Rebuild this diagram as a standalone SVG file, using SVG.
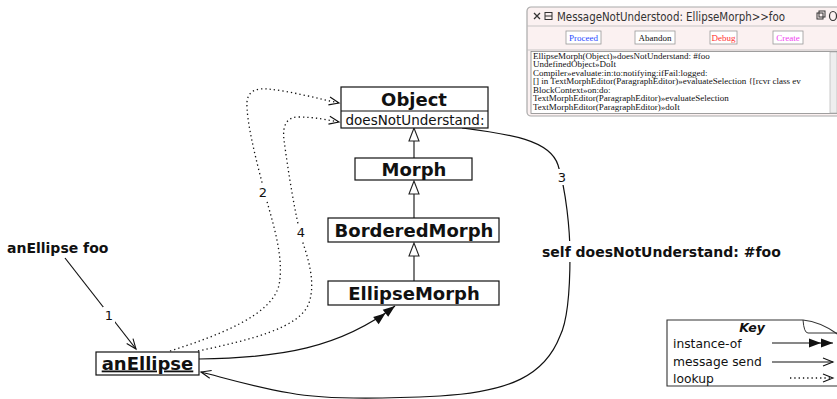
<svg xmlns="http://www.w3.org/2000/svg" width="837" height="399" viewBox="0 0 837 399">
<style>
.box{fill:#fff;stroke:#111;stroke-width:1.2}
.cls{font-family:"DejaVu Sans",sans-serif;font-weight:bold;font-size:18px;text-anchor:middle;fill:#111}
.lbl{font-family:"DejaVu Sans",sans-serif;font-size:13px;text-anchor:middle;fill:#111}
.bold14{font-family:"DejaVu Sans",sans-serif;font-weight:bold;font-size:14px;fill:#111}
.send{fill:none;stroke:#111;stroke-width:1.2}
.look{fill:none;stroke:#111;stroke-width:1.3;stroke-dasharray:1.3 3}
.spine{stroke:#444;stroke-width:1.4}
.tri{fill:#fff;stroke:#222;stroke-width:1.1}
.trace{font-family:"Liberation Serif",serif;font-size:9px;fill:#111}
.btn{fill:#fff;stroke:#999;stroke-width:0.8}
.btxt{font-family:"Liberation Serif",serif;font-size:9px;text-anchor:middle}
.key{font-family:"DejaVu Sans",sans-serif;font-size:12.3px;fill:#111}
</style>
<defs>
<marker id="open" markerUnits="userSpaceOnUse" markerWidth="14" markerHeight="12" refX="10" refY="4" orient="auto" overflow="visible">
<path d="M0,0 L10,4 L0,8" fill="none" stroke="#111" stroke-width="1.1"/>
</marker>
<marker id="dbl" markerUnits="userSpaceOnUse" markerWidth="26" markerHeight="12" refX="24" refY="4.5" orient="auto" overflow="visible">
<path d="M0,0 L12,4.5 L0,9 z M12,0 L24,4.5 L12,9 z" fill="#111"/>
</marker>
<clipPath id="txtclip"><rect x="532" y="52" width="297" height="61"/></clipPath>
</defs>

<g id="screenshot">
<rect x="527" y="7" width="320" height="109" rx="4" fill="#fbf1f1" stroke="#aaa" stroke-width="1.2"/>
<line x1="527" y1="26" x2="837" y2="26" stroke="#bbb" stroke-width="0.8"/>
<line x1="527" y1="50" x2="837" y2="50" stroke="#bbb" stroke-width="0.8"/>
<path d="M534,13 L540,19 M540,13 L534,19" stroke="#333" stroke-width="1.3"/>
<rect x="545" y="12.5" width="7" height="7" fill="none" stroke="#333" stroke-width="1"/>
<line x1="545" y1="16" x2="552" y2="16" stroke="#333" stroke-width="1"/>
<text x="557" y="21" font-family="DejaVu Sans,sans-serif" font-size="12.5px" fill="#333" textLength="228" lengthAdjust="spacingAndGlyphs">MessageNotUnderstood: EllipseMorph&gt;&gt;foo</text>
<rect x="817" y="13" width="6" height="6" fill="none" stroke="#333" stroke-width="1"/>
<rect x="819" y="11" width="6" height="6" fill="none" stroke="#333" stroke-width="1"/>
<ellipse cx="833" cy="16" rx="3.5" ry="4.5" fill="none" stroke="#333" stroke-width="1.2"/>
<rect class="btn" x="566" y="31" width="35" height="13"/>
<text class="btxt" x="583.5" y="40.5" fill="#2a4bff">Proceed</text>
<rect class="btn" x="635" y="31" width="40" height="13"/>
<text class="btxt" x="655" y="40.5" fill="#111">Abandon</text>
<rect class="btn" x="710" y="31" width="27" height="13"/>
<text class="btxt" x="723.5" y="40.5" fill="#ff3030">Debug</text>
<rect class="btn" x="773" y="31" width="30" height="13"/>
<text class="btxt" x="788" y="40.5" fill="#f040f0">Create</text>
<rect x="531" y="51.5" width="306" height="62" fill="#fff" stroke="#888" stroke-width="0.8"/>
<rect x="830" y="52" width="7" height="61" fill="#eee" stroke="#aaa" stroke-width="0.6"/>
<g clip-path="url(#txtclip)">
<text class="trace" x="533" y="58.5">EllipseMorph(Object)»doesNotUnderstand: #foo</text>
<text class="trace" x="533" y="67">UndefinedObject»DoIt</text>
<text class="trace" x="533" y="75.5">Compiler»evaluate:in:to:notifying:ifFail:logged:</text>
<text class="trace" x="533" y="84">[] in TextMorphEditor(ParagraphEditor)»evaluateSelection {[rcvr class ev</text>
<text class="trace" x="533" y="92.5">BlockContext»on:do:</text>
<text class="trace" x="533" y="101">TextMorphEditor(ParagraphEditor)»evaluateSelection</text>
<text class="trace" x="533" y="109.5">TextMorphEditor(ParagraphEditor)»doIt</text>
</g>
</g>

<g id="connectors">
<line class="spine" x1="414" y1="141" x2="414" y2="158"/>
<polygon class="tri" points="414,128 409,141 419,141"/>
<line class="spine" x1="414" y1="194" x2="414" y2="218"/>
<polygon class="tri" points="414,181 409,194 419,194"/>
<line class="spine" x1="414" y1="256" x2="414" y2="281"/>
<polygon class="tri" points="414,243 409,256 419,256"/>

<path class="send" d="M65,258 L136,349" marker-end="url(#open)"/>
<path class="send" d="M199,359 C280,358 340,348 395,306" marker-end="url(#dbl)"/>
<path class="send" d="M462,128 C510,134 550,140 558,165 C566,190 570,230 570,255 C570,290 568,320 560,336 C545,375 510,392 440,396 C380,399 320,399 290,393 C250,386 225,378 201,372" marker-end="url(#open)"/>
<path class="look" d="M170,351 C220,335 272,315 279,285 C285,255 270,215 264,190 C256,160 246,120 247,102 C248,90 258,88 268,89 C290,91 320,99 339,103" marker-end="url(#open)"/>
<path class="look" d="M198,351 C250,340 300,328 309,303 C316,282 308,258 302,240 C295,215 288,170 284,140 C282,124 288,117 298,117 C315,117 328,120 339,122" marker-end="url(#open)"/>

<rect x="103" y="307" width="12" height="16" fill="#fff"/>
<text class="lbl" x="109" y="320">1</text>
<rect x="257" y="184" width="12" height="16" fill="#fff"/>
<text class="lbl" x="263" y="197">2</text>
<rect x="556" y="169" width="12" height="16" fill="#fff"/>
<text class="lbl" x="562" y="182">3</text>
<rect x="295" y="224" width="12" height="16" fill="#fff"/>
<text class="lbl" x="301" y="237">4</text>
<rect x="540" y="241" width="240" height="21" fill="#fff"/>
<text class="bold14" x="542" y="257">self doesNotUnderstand: #foo</text>
</g>

<g id="anEllipseFoo">
<text class="bold14" x="7" y="253">anEllipse foo</text>
</g>

<g id="Object">
<rect class="box" x="341" y="87" width="147" height="41"/>
<line x1="341" y1="111" x2="488" y2="111" stroke="#111" stroke-width="1.2"/>
<text class="cls" x="414" y="106">Object</text>
<text x="415" y="124.5" font-family="DejaVu Sans,sans-serif" font-size="13.5px" text-anchor="middle" fill="#111">doesNotUnderstand:</text>
</g>
<g id="Morph">
<rect class="box" x="355" y="158" width="117" height="22"/>
<text class="cls" x="414" y="175.5">Morph</text>
</g>
<g id="BorderedMorph">
<rect class="box" x="328" y="218" width="171" height="24"/>
<text class="cls" x="414" y="236.5">BorderedMorph</text>
</g>
<g id="EllipseMorph">
<rect class="box" x="328" y="281" width="171" height="24"/>
<text class="cls" x="414" y="299.5">EllipseMorph</text>
</g>
<g id="anEllipse">
<rect class="box" x="96" y="352" width="103" height="23"/>
<text class="cls" x="147.5" y="369.5" text-decoration="underline">anEllipse</text>
</g>

<g id="key">
<path d="M667,320 L803,320 Q822,322 840,336 L840,386 L667,386 Z" fill="#fff" stroke="#333" stroke-width="1.1"/>
<path d="M803,320 Q804,333 808,333 L840,333" fill="none" stroke="#333" stroke-width="1"/>
<text x="752" y="332" font-family="DejaVu Sans,sans-serif" font-size="12.5px" font-weight="bold" font-style="italic" text-anchor="middle" fill="#111">Key</text>
<text class="key" x="673" y="348">instance-of</text>
<text class="key" x="673" y="366">message send</text>
<text class="key" x="673" y="383">lookup</text>
<line x1="772" y1="343" x2="833" y2="343" stroke="#111" stroke-width="1.2" marker-end="url(#dbl)"/>
<line x1="772" y1="362" x2="833" y2="362" stroke="#111" stroke-width="1.2" marker-end="url(#open)"/>
<line class="look" x1="790" y1="378" x2="833" y2="378" marker-end="url(#open)"/>
</g>
</svg>
